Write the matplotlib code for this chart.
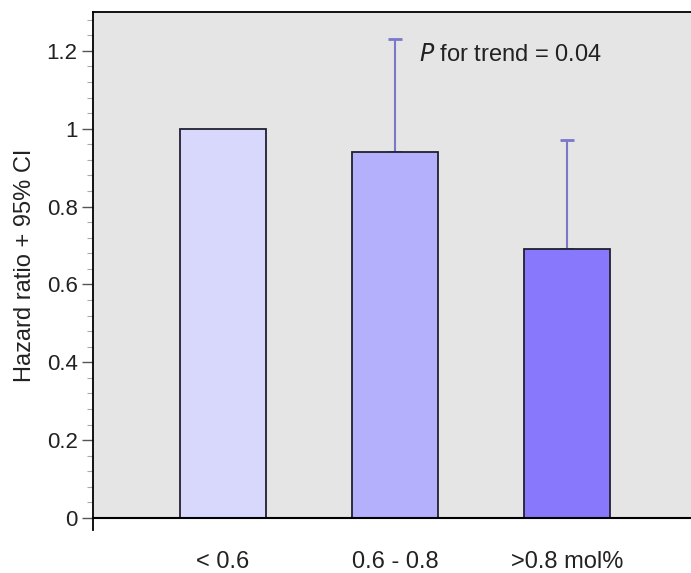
import matplotlib
matplotlib.use("Agg")
import matplotlib.pyplot as plt
from matplotlib.ticker import MultipleLocator

plt.rcParams['font.family'] = ['Liberation Sans', 'DejaVu Sans']

groups = ["< 0.6", "0.6 - 0.8", ">0.8 mol%"]
hazard = [1.0, 0.94, 0.69]
ci_upper = [1.0, 1.23, 0.97]
bar_colors = ["#d8d8fc", "#b4b0fc", "#8878fc"]

fig = plt.figure(figsize=(6.91, 5.73), dpi=100)
ax = fig.add_axes([93 / 691, 1 - 518 / 573, 1 - 93 / 691, (518 - 12) / 573])
ax.set_facecolor("#e5e5e5")

x = list(range(len(groups)))
ax.bar(x, hazard, width=0.5, color=bar_colors, edgecolor="#202030", linewidth=1.3, zorder=2)

# only the upper half of the CI is drawn
err = [h_hi - h for h, h_hi in zip(hazard, ci_upper)]
for xi, h, e in zip(x, hazard, err):
    if e > 0:
        ax.errorbar(xi, h, yerr=[[0], [e]], color="#7b78cc", capsize=5, elinewidth=1.5,
                    capthick=2, zorder=1)

ax.set_xlim(-0.756, 2.72)
ax.set_ylim(0, 1.3)

ax.spines['right'].set_visible(False)
ax.spines['top'].set_linewidth(1.3)
ax.spines['left'].set_linewidth(1.3)
ax.spines['bottom'].set_linewidth(1.5)
ax.spines['left'].set_bounds(-0.03, 1.3)

ax.yaxis.set_major_locator(MultipleLocator(0.2))
ax.yaxis.set_minor_locator(MultipleLocator(0.04))
ax.set_yticks([0, 0.2, 0.4, 0.6, 0.8, 1.0, 1.2])
ax.set_yticklabels(["0", "0.2", "0.4", "0.6", "0.8", "1", "1.2"])
ax.tick_params(axis='y', which='major', length=8, width=1, color="#555555", labelsize=16,
               pad=3, labelcolor="#222222")
ax.tick_params(axis='y', which='minor', length=4, width=0.8, color="#aaaaaa")

ax.set_xticks(x)
ax.set_xticklabels(groups)
ax.tick_params(axis='x', length=0, labelsize=17, pad=24, labelcolor="#222222")

ax.set_ylabel("Hazard ratio + 95% CI", fontsize=17, labelpad=8, color="#222222")

ax.text(1.14, 1.19, "$\\mathit{P}$ for trend = 0.04", fontsize=17, va='center', ha='left',
        color="#222222")

fig.savefig("out.png", dpi=100)
